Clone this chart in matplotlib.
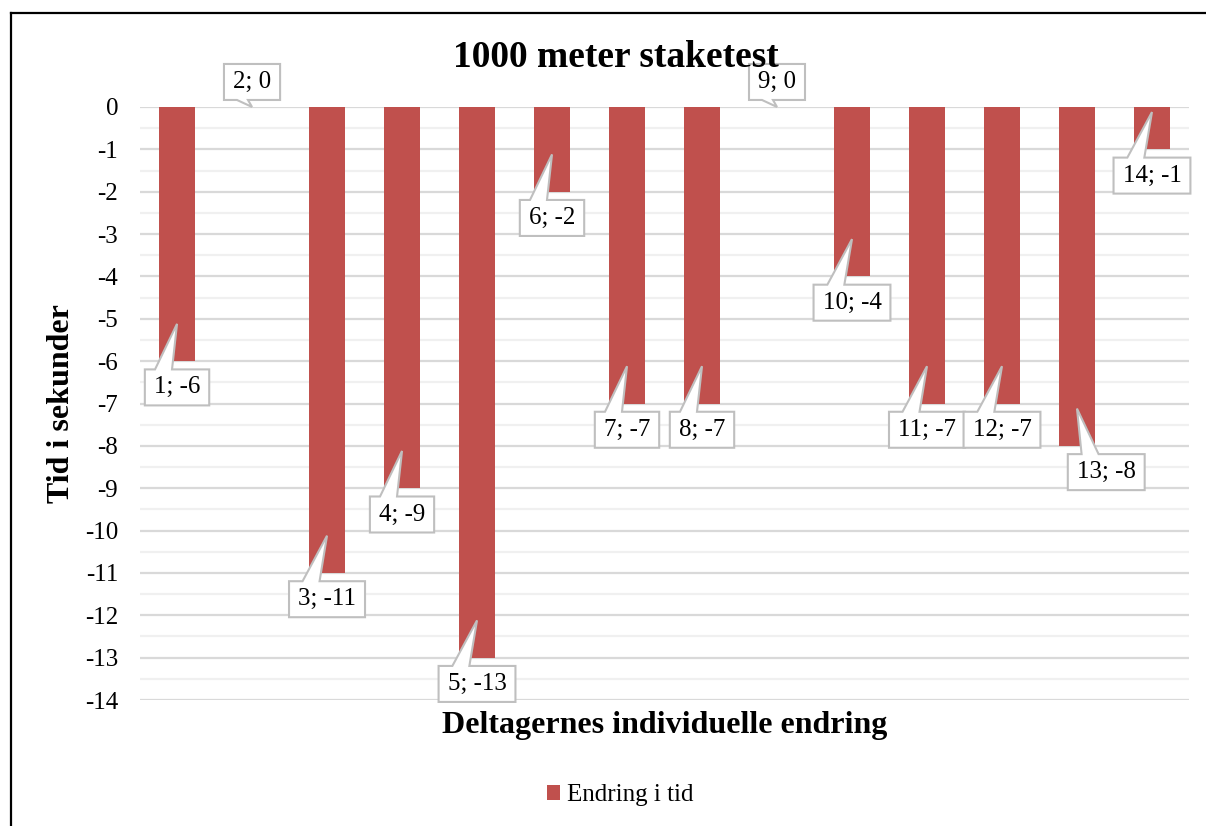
import matplotlib.pyplot as plt
from matplotlib.lines import Line2D
from matplotlib.patches import Polygon

# Data
participants = list(range(1, 15))
change = [-6, 0, -11, -9, -13, -2, -7, -7, 0, -4, -7, -7, -8, -1]
yticks = list(range(0, -15, -1))

bar_color = "#c0504d"
edge_grey = "#bfbfbf"
serif = ["Liberation Serif", "DejaVu Serif"]

fig = plt.figure(figsize=(12.06, 8.26), dpi=100)
ax = fig.add_axes([0.1157, 0.1525, 0.8706, 0.718])

ax.bar(participants, change, width=0.47, color=bar_color, zorder=3,
       label="Endring i tid")

ax.set_xlim(0.5, 14.5)
ax.set_ylim(-14, 0)
ax.set_yticks(yticks)
ax.set_yticklabels([str(t) for t in yticks], fontfamily=serif, fontsize=18)
ax.set_yticks([t - 0.5 for t in yticks[:-1]], minor=True)
ax.set_xticks([])
ax.tick_params(axis="y", which="both", length=0, pad=15.5)
ax.grid(axis="y", which="major", color="#d9d9d9", lw=1.6, zorder=0)
ax.grid(axis="y", which="minor", color="#f0f0f0", lw=1.6, zorder=0)
for s in ax.spines.values():
    s.set_visible(False)

# callout texts first, the outline is built once their size is known
label_dx = {13: 0.39}
callouts = []
for p, v in zip(participants, change):
    if v == 0:
        tip = (p, 0)
        box = (p + label_dx.get(p, 0), 0.59)
    else:
        tip = (p, v + 0.88)
        box = (p + label_dx.get(p, 0), v - 0.62)
    t = ax.text(box[0], box[1], f"{p}; {v}", ha="center", va="center",
                fontsize=18, fontfamily=serif, zorder=6, clip_on=False)
    callouts.append((t, tip, box, v == 0))

fig.canvas.draw()
renderer = fig.canvas.get_renderer()
to_px = ax.transData.transform
to_data = ax.transData.inverted().transform

for t, tip, box, above in callouts:
    bb = t.get_window_extent(renderer)
    cx, cy = to_px(box)
    hw = bb.width / 2 + 9
    hh = 18
    x0, x1, y0, y1 = cx - hw, cx + hw, cy - hh, cy + hh
    tx, ty = to_px(tip)
    if above:
        bx = x0 + 0.33 * (x1 - x0)
        bw = 11
        pts = [(x0, y1), (x1, y1), (x1, y0), (bx + bw / 2, y0), (tx, ty),
               (bx - bw / 2, y0), (x0, y0)]
    else:
        bx = x0 + 0.29 * (x1 - x0)
        bw = 17
        pts = [(x0, y0), (x1, y0), (x1, y1), (bx + bw / 2, y1), (tx, ty),
               (bx - bw / 2, y1), (x0, y1)]
    ax.add_patch(Polygon(to_data(pts), closed=True, fc="white", ec=edge_grey,
                         lw=1.5, zorder=5, clip_on=False))

fig.text(0.5104, 0.9189, "1000 meter staketest", ha="center", va="baseline",
         fontsize=27, fontweight="bold", fontfamily=serif)
fig.text(0.0514, 0.5115, "Tid i sekunder", ha="center", va="center",
         rotation=90, fontsize=23, fontweight="bold", fontfamily=serif)
fig.text(0.5514, 0.1126, "Deltagernes individuelle endring", ha="center",
         va="baseline", fontsize=23, fontweight="bold", fontfamily=serif)

fig.legend(loc="center", bbox_to_anchor=(0.514, 0.0375), frameon=False,
           prop={"family": serif, "size": 18}, handlelength=0.55,
           handleheight=0.55, handletextpad=0.25)

# outer border (only top and left visible)
fig.add_artist(Line2D([0.0095, 0.0095], [0, 0.984], color="black", lw=1.6))
fig.add_artist(Line2D([0.0095, 1], [0.984, 0.984], color="black", lw=1.6))

fig.savefig("out.png", dpi=100)
